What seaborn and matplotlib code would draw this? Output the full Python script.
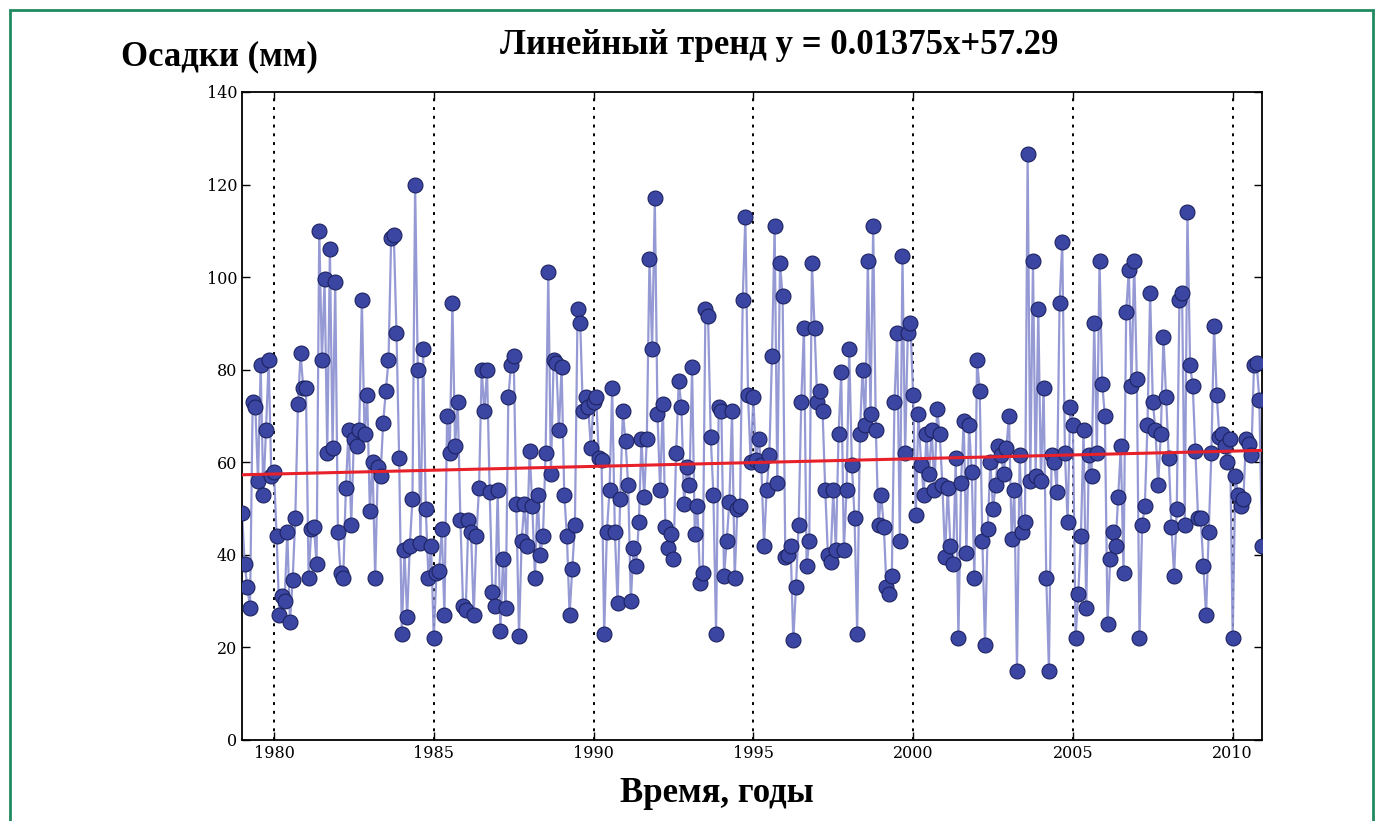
import numpy as np
import pandas as pd
import matplotlib
matplotlib.use("Agg")
import matplotlib.pyplot as plt
import seaborn as sns
from matplotlib.patches import Rectangle

# ---------------- data (monthly precipitation, mm) ----------------
start_year = 1979
y1979 = [49, 38, 33, 28.5, 73, 72, 56, 81, 53, 67, 82, 57]
y1980 = [58, 44, 27, 31, 30, 45, 25.5, 34.5, 48, 72.5, 83.5, 76]
y1981 = [76, 35, 45.5, 46, 38, 110, 82, 99.5, 62, 106, 63, 99]
y1982 = [45, 36, 35, 54.5, 67, 46.5, 65, 63.5, 67, 95, 66, 74.5]
y1983 = [49.5, 60, 35, 59, 57, 68.5, 75.5, 82, 108.5, 109, 88, 61]
y1984 = [23, 41, 26.5, 42, 52, 120, 80, 42.5, 84.5, 50, 35, 42]
y1985 = [22, 36, 36.5, 45.5, 27, 70, 62, 94.5, 63.5, 73, 47.5, 29]
y1986 = [28, 47.5, 45, 27, 44, 54.5, 80, 71, 80, 53.5, 32, 29]
y1987 = [54, 23.5, 39, 28.5, 74, 81, 83, 51, 22.5, 43, 51, 42]
y1988 = [62.5, 50.5, 35, 53, 40, 44, 62, 101, 57.5, 82, 81.5, 67]
y1989 = [80.5, 53, 44, 27, 37, 46.5, 93, 90, 71, 74, 72, 63]
y1990 = [73, 74, 61, 60.5, 23, 45, 54, 76, 45, 29.5, 52, 71]
y1991 = [64.5, 55, 30, 41.5, 37.5, 47, 65, 52.5, 65, 104, 84.5, 117]
y1992 = [70.5, 54, 72.5, 46, 41.5, 44.5, 39, 62, 77.5, 72, 51, 59]
y1993 = [55, 80.5, 44.5, 50.5, 34, 36, 93, 91.5, 65.5, 53, 23, 72]
y1994 = [71, 35.5, 43, 51.5, 71, 35, 50, 50.5, 95, 113, 74.5, 60]
y1995 = [74, 60.5, 65, 59.5, 42, 54, 61.5, 83, 111, 55.5, 103, 96]
y1996 = [39.5, 40, 42, 21.5, 33, 46.5, 73, 89, 37.5, 43, 103, 89]
y1997 = [73, 75.5, 71, 54, 40, 38.5, 54, 41, 66, 79.5, 41, 54]
y1998 = [84.5, 59.5, 48, 23, 66, 80, 68, 103.5, 70.5, 111, 67, 46.5]
y1999 = [53, 46, 33, 31.5, 35.5, 73, 88, 43, 104.5, 62, 88, 90]
y2000 = [74.5, 48.5, 70.5, 59.5, 53, 66, 57.5, 67, 54, 71.5, 66, 55]
y2001 = [39.5, 54.5, 42, 38, 61, 22, 55.5, 69, 40.5, 68, 58, 35]
y2002 = [82, 75.5, 43, 20.5, 45.5, 60, 50, 55, 63.5, 61.5, 57.5, 63]
y2003 = [70, 43.5, 54, 15, 61.5, 45, 47, 126.5, 56, 103.5, 57, 93]
y2004 = [56, 76, 35, 15, 61.5, 60, 53.5, 94.5, 107.5, 62, 47, 72]
y2005 = [68, 22, 31.5, 44, 67, 28.5, 61.5, 57, 90, 62, 103.5, 77]
y2006 = [70, 25, 39, 45, 42, 52.5, 63.5, 36, 92.5, 101.5, 76.5, 103.5]
y2007 = [78, 22, 46.5, 50.5, 68, 96.5, 73, 67, 55, 66, 87, 74]
y2008 = [61, 46, 35.5, 50, 95, 96.5, 46.5, 114, 81, 76.5, 62.5, 48]
y2009 = [48, 37.5, 27, 45, 62, 89.5, 74.5, 65.5, 66, 63.5, 60, 65]
y2010 = [22, 57, 53, 50.5, 52, 65, 64, 61.5, 81, 81.5, 73.5, 42]

years_data = [y1979, y1980, y1981, y1982, y1983, y1984, y1985, y1986,
              y1987, y1988, y1989, y1990, y1991, y1992, y1993, y1994,
              y1995, y1996, y1997, y1998, y1999, y2000, y2001, y2002,
              y2003, y2004, y2005, y2006, y2007, y2008, y2009, y2010]

trend_slope = 0.01375
trend_intercept = 57.29

xtick_years = [1980, 1985, 1990, 1995, 2000, 2005, 2010]
ytick_values = [0, 20, 40, 60, 80, 100, 120, 140]

title_text = "Линейный тренд y = 0.01375x+57.29"
ylabel_text = "Осадки (мм)"
xlabel_text = "Время, годы"

# ---------------- build frame ----------------
values = np.concatenate([np.asarray(v, float) for v in years_data])
idx = np.arange(len(values))
time = start_year + idx / 12.0
df = pd.DataFrame({"time": time, "precip": values,
                   "trend": trend_slope * idx + trend_intercept})

# ---------------- plot ----------------
sns.set_style("white")
plt.rcParams["font.family"] = ["DejaVu Serif"]
plt.rcParams["text.color"] = "black"
plt.rcParams["xtick.color"] = "black"
plt.rcParams["ytick.color"] = "black"

fig = plt.figure(figsize=(13.83, 8.21), dpi=100)
fig.patch.set_facecolor("white")
ax = fig.add_axes([0.175, 0.0987, 0.7375, 0.7893])

sns.lineplot(data=df, x="time", y="precip", ax=ax, color="#8a8fd0",
             linewidth=1.6, alpha=0.9, zorder=2)
sns.scatterplot(data=df, x="time", y="precip", ax=ax, s=115,
                color="#3b46a3", edgecolor="#1c2260", linewidth=0.8,
                zorder=3)
sns.lineplot(data=df, x="time", y="trend", ax=ax, color="#e8202a",
             linewidth=2.2, zorder=4)

ax.set_xlim(time[0], time[-1])
ax.set_ylim(0, 140)
ax.set_xticks(xtick_years)
ax.set_yticks(ytick_values)
ax.set_xticklabels([str(v) for v in xtick_years])
ax.set_yticklabels([str(v) for v in ytick_values])
ax.tick_params(direction="in", length=6, width=1, labelsize=11.5,
               colors="black", labelcolor="black",
               top=True, right=True, bottom=True, left=True)
for sp in ax.spines.values():
    sp.set_visible(True)
    sp.set_color("black")
    sp.set_linewidth(1.3)

for yr in xtick_years:
    ax.axvline(yr, color="black", linestyle=(0, (1.5, 3)), linewidth=1.4,
               zorder=1)

ax.set_xlabel("")
ax.set_ylabel("")

serif_bold = dict(family=["Liberation Serif", "DejaVu Serif"],
                  fontweight="bold", fontsize=25, color="black")
fig.text(0.5635, 0.945, title_text, ha="center", va="center", **serif_bold)
fig.text(0.0875, 0.931, ylabel_text, ha="left", va="center", **serif_bold)
fig.text(0.5185, 0.034, xlabel_text, ha="center", va="center", **serif_bold)

# green frame around the figure
fig.patches.append(Rectangle((0.0072, -0.02), 0.9856, 1.008,
                             transform=fig.transFigure, fill=False,
                             edgecolor="#1f8a5e", linewidth=2.0))

fig.savefig("out.png", dpi=100, facecolor="white")
